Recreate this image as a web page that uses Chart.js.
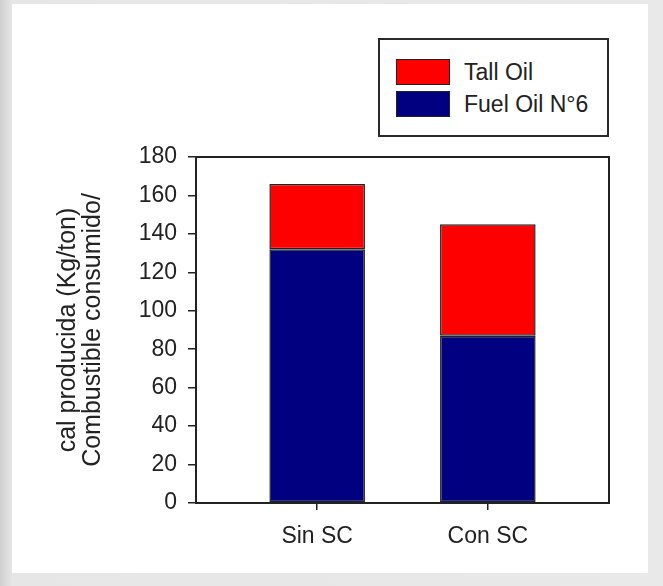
<!DOCTYPE html>
<html>
<head>
<meta charset="utf-8">
<script src="https://cdn.jsdelivr.net/npm/chart.js@4/dist/chart.umd.min.js"></script>
<style>
  html, body { margin: 0; padding: 0; }
  body {
    width: 663px; height: 586px; overflow: hidden; position: relative;
    background: linear-gradient(to right, #cfcfcf 0px, #e6e6e6 12px, #e9e9e9 100%);
    font-family: "Liberation Sans", Arial, sans-serif;
  }
  #panel { position: absolute; left: 12px; top: 4px; width: 636px; height: 569px; background: #fff; }
  #wrap { position: absolute; left: 0; top: 0; width: 663px; height: 586px; }
  #legend {
    position: absolute; left: 378px; top: 38px; width: 227px; height: 95px;
    border: 2px solid #2a2a2a; background: #fff;
  }
  .item { position: absolute; left: 16px; height: 26px; }
  .sw { position: absolute; left: 0; top: 0; width: 52px; height: 24px; border: 1px solid #222; }
  .lbl { position: absolute; left: 68px; top: 0; line-height: 26px; font-size: 23px; color: #222; white-space: nowrap; }
</style>
</head>
<body>
<div id="panel"></div>
<div id="wrap"><canvas id="chart"></canvas></div>
<div id="legend"></div>
<script>
const categories = ['Sin SC', 'Con SC'];
const fuelOil = [132, 87];
const tallOil = [34, 58];
const yTicks = { min: 0, max: 180, step: 20 };
const yTitle = ['cal producida (Kg/ton)', 'Combustible consumido/'];

const red = '#ff0000';
const navy = '#000080';
const ink = '#222222';
const fam = '"Liberation Sans", Arial, sans-serif';

// box around the plot area
const frame = {
    id: 'frame',
    afterDatasetsDraw(chart) {
        const a = chart.chartArea;
        const ctx = chart.ctx;
        ctx.save();
        ctx.strokeStyle = ink;
        ctx.lineWidth = 2;
        ctx.strokeRect(a.left, a.top, a.right - a.left, a.bottom - a.top);
        ctx.restore();
    }
};

const pts = vals => vals.map((v, i) => ({ x: i + 1, y: v }));

new Chart(document.getElementById('chart'), {
    type: 'bar',
    data: {
        datasets: [
            { label: 'Fuel Oil N°6', data: pts(fuelOil), backgroundColor: navy, borderColor: ink, borderWidth: 1.5, borderSkipped: false },
            { label: 'Tall Oil', data: pts(tallOil), backgroundColor: red, borderColor: ink, borderWidth: 1.5, borderSkipped: false }
        ]
    },
    options: {
        responsive: true,
        maintainAspectRatio: false,
        animation: false,
        layout: { padding: { left: 0, right: 54, top: 157, bottom: 33 } },
        datasets: { bar: { categoryPercentage: 1, barPercentage: 0.56 } },
        plugins: { legend: { display: false }, tooltip: { enabled: false } },
        scales: {
            x: {
                type: 'linear', stacked: true, min: 0.29, max: 2.71, offset: false,
                afterBuildTicks: s => { s.ticks = categories.map((c, i) => ({ value: i + 1 })); },
                afterFit: s => { s.height = 50; },
                ticks: { callback: v => categories[v - 1], color: ink, padding: 13, maxRotation: 0,
                         font: { family: fam, size: 23 } },
                grid: { offset: false, drawOnChartArea: false, drawTicks: true, tickLength: 7, color: ink, lineWidth: 1.5 },
                border: { display: false }
            },
            y: {
                stacked: true, min: yTicks.min, max: yTicks.max,
                afterFit: s => { s.width = 196; },
                ticks: { stepSize: yTicks.step, color: ink, padding: 11,
                         font: { family: fam, size: 23 } },
                grid: { drawOnChartArea: false, drawTicks: true, tickLength: 8, color: ink, lineWidth: 1.5 },
                border: { display: false },
                title: { display: true, text: yTitle, color: ink, padding: { top: 56, bottom: 0 },
                         font: { family: fam, size: 25, lineHeight: 1.0 } }
            }
        }
    },
    plugins: [frame]
});

// legend box, top to bottom: Tall Oil then Fuel Oil
const legendItems = [
    { label: 'Tall Oil', color: red },
    { label: 'Fuel Oil N°6', color: navy }
];
const legend = document.getElementById('legend');
legendItems.forEach((it, i) => {
    const row = document.createElement('div');
    row.className = 'item';
    row.style.top = (19 + i * 32) + 'px';
    row.innerHTML = '<div class="sw" style="background:' + it.color + '"></div><div class="lbl">' + it.label + '</div>';
    legend.appendChild(row);
});
</script>
</body>
</html>
